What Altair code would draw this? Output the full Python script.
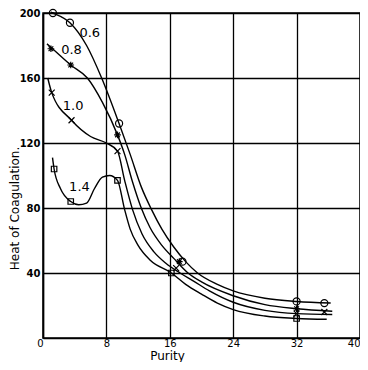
import altair as alt
import pandas as pd

# ---- curve traces (purity, heat) ----
c06_x = [1.0, 1.25, 3.4, 5.5, 7.4, 9.6, 11.0, 12.4, 13.7, 15.0, 16.5, 18.0, 19.5, 22.0, 24.0, 28.0, 32.0, 36.3]
c06_y = [200.5, 200, 194, 180, 160, 132, 113, 93, 79, 67, 56, 47, 40, 33, 29, 24.5, 22.5, 21.5]

c08_x = [0.5, 1.2, 3.5, 5.6, 7.5, 9.4, 10.3, 11.3, 12.4, 13.5, 15.0, 16.5, 18.3, 20.0, 24.0, 28.0, 32.0, 36.5]
c08_y = [181, 178, 168, 160, 145, 125, 113, 96, 80, 68, 57, 49, 40, 34.5, 26, 20.5, 18, 16.5]

c10_x = [0.6, 1.1, 3.6, 6.0, 8.0, 9.4, 10.3, 11.3, 12.5, 14.0, 15.5, 17.3, 19.0, 21.0, 24.0, 28.0, 32.0, 36.5]
c10_y = [160, 151, 134, 124, 120, 115, 97, 79, 64, 53, 46, 40, 35, 29, 22, 17, 15, 14.5]

c14_x = [1.2, 1.4, 2.2, 3.5, 4.5, 5.5, 6.5, 7.5, 8.4, 9.4, 10.3, 11.0, 12.0, 13.5, 16.2, 18.0, 20.0, 22.0, 24.0, 28.0, 32.0, 35.8]
c14_y = [111, 104, 92, 84, 82, 83, 92, 99, 100, 97, 79, 67, 57, 48, 40, 33, 27, 21.5, 17.5, 13.5, 12, 11.5]

# ---- observed points ----
p06_x = [1.25, 3.4, 9.6, 17.6, 32.0, 35.5]
p06_y = [200, 194, 132, 47, 22.5, 21.5]
p08_x = [1.0, 3.5, 9.4, 17.2, 32.0]
p08_y = [178, 168, 125, 47, 18]
p10_x = [1.1, 3.6, 9.4, 16.8, 32.0, 35.5]
p10_y = [151, 134, 115, 43, 15, 16]
p14_x = [1.4, 3.5, 9.4, 16.2, 32.0]
p14_y = [104, 84, 97, 40, 12]

labels = ["0.6", "0.8", "1.0", "1.4"]
label_x = [5.9, 3.6, 3.8, 4.6]
label_y = [188, 177, 143, 93]

x_ticks = [0, 8, 16, 24, 32, 40]
y_ticks = [40, 80, 120, 160, 200]

curves = pd.concat([
    pd.DataFrame({"x": c06_x, "y": c06_y, "s": "0.6"}),
    pd.DataFrame({"x": c08_x, "y": c08_y, "s": "0.8"}),
    pd.DataFrame({"x": c10_x, "y": c10_y, "s": "1.0"}),
    pd.DataFrame({"x": c14_x, "y": c14_y, "s": "1.4"}),
])

X = alt.X("x:Q", scale=alt.Scale(domain=[0, 40], nice=False, zero=False),
          axis=alt.Axis(values=x_ticks, grid=True, gridColor="black", gridWidth=1.3, gridOpacity=1,
                        domainColor="black", domainWidth=1.5, ticks=False, labelPadding=0,
                        labelBaseline="top",
                        labelAlign={"condition": {"test": "datum.value == 0 || datum.value == 40",
                                                  "value": "right"}, "value": "center"},
                        labelFont="DejaVu Sans", labelFontSize=10, labelColor="black",
                        title="Purity", titleFont="DejaVu Sans", titleFontSize=12,
                        titleFontWeight="normal", titleColor="black", titleAlign="center",
                        titleAnchor="start", titleBaseline="alphabetic",
                        titleX=124, titleY=21))
Y = alt.Y("y:Q", scale=alt.Scale(domain=[0, 200], nice=False, zero=True),
          axis=alt.Axis(values=y_ticks, grid=True, gridColor="black", gridWidth=1.3, gridOpacity=1,
                        domainColor="black", domainWidth=1.5, ticks=False, labelPadding=3,
                        labelFont="DejaVu Sans", labelFontSize=10, labelFontWeight="bold",
                        labelColor="black",
                        title="Heat of Coagulation.", titleFont="DejaVu Sans", titleFontSize=12,
                        titleFontWeight="normal", titleColor="black", titleAngle=270,
                        titleAlign="center", titleAnchor="start", titleBaseline="top",
                        titleX=-34, titleY=195))

lines = alt.Chart(curves).mark_line(color="black", strokeWidth=1.4, interpolate="monotone").encode(
    x=X, y=Y, detail="s:N")

def pts(xs, ys, shape, size, sw=1.2):
    return alt.Chart(pd.DataFrame({"x": xs, "y": ys})).mark_point(
        shape=shape, size=size, filled=False, color="black", strokeWidth=sw, opacity=1
    ).encode(x="x:Q", y="y:Q")

asterisk = "M-1,0L1,0M0,-1L0,1M-0.7,-0.7L0.7,0.7M-0.7,0.7L0.7,-0.7"
cross = "M-1,-1L1,1M-1,1L1,-1"

m06 = pts(p06_x, p06_y, "circle", 50)
m08 = pts(p08_x, p08_y, asterisk, 45)
m10 = pts(p10_x, p10_y, cross, 35)
m14 = pts(p14_x, p14_y, "square", 30)

txt = alt.Chart(pd.DataFrame({"x": label_x, "y": label_y, "t": labels})).mark_text(
    font="DejaVu Sans", fontSize=13, color="black", align="center", baseline="middle"
).encode(x="x:Q", y="y:Q", text="t:N")

chart = alt.layer(lines, m06, m08, m10, m14, txt).properties(
    width=317, height=325,
    autosize=alt.AutoSizeParams(type="none"),
    padding={"left": 35, "top": 5, "right": 0, "bottom": 24},
    background="white",
).configure_view(stroke="black", strokeWidth=1.5)

chart.save("out.html", embed_options={"renderer": "svg", "actions": False})
